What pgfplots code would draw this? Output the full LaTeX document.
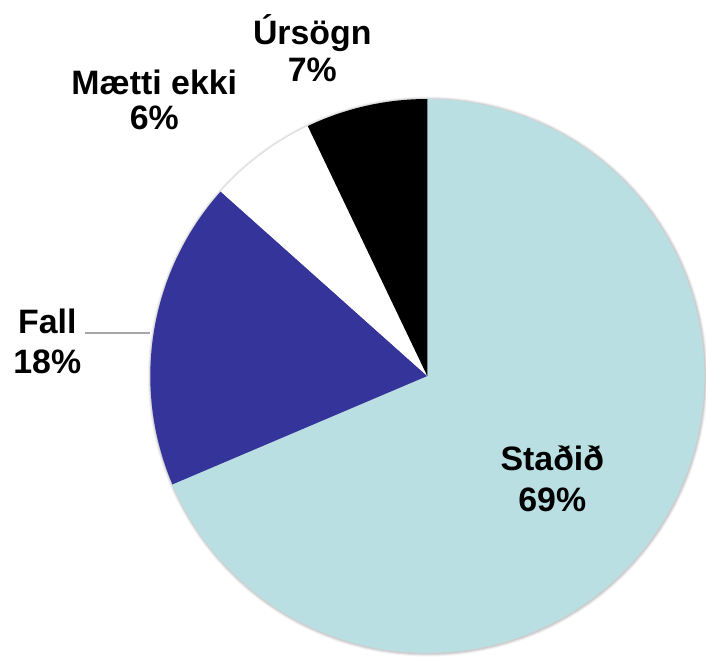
\documentclass[border=0pt]{standalone}
\usepackage{pgfplots}
\pgfplotsset{compat=1.18}
\usepackage{pgfplotstable}
\usepackage{fontspec}
\setmainfont{Liberation Sans}
\definecolor{stadid}{HTML}{BADFE3}
\definecolor{fall}{HTML}{35349A}
\pgfplotstableread{
label value
Stadid 68.6
Fall 18.0
Maetti 6.3
Ursogn 7.1
}\piedata
\pgfplotstablegetelem{0}{value}\of\piedata \let\vA\pgfplotsretval
\pgfplotstablegetelem{1}{value}\of\piedata \let\vB\pgfplotsretval
\pgfplotstablegetelem{2}{value}\of\piedata \let\vC\pgfplotsretval
\pgfplotstablegetelem{3}{value}\of\piedata \let\vD\pgfplotsretval
\pgfmathsetmacro{\aZero}{90}
\pgfmathsetmacro{\aA}{90-3.6*\vA}
\pgfmathsetmacro{\aB}{\aA-3.6*\vB}
\pgfmathsetmacro{\aC}{\aB-3.6*\vC}
\pgfmathsetmacro{\aD}{\aC-3.6*\vD}
\def\R{277}
\tikzset{lbl/.style={font=\fontsize{34}{40}\selectfont\bfseries, inner sep=0pt, anchor=base}}
\begin{document}
\begin{tikzpicture}
\begin{axis}[
  x=1bp, y=1bp,
  xmin=-427.3, xmax=278.7, ymin=-281, ymax=376,
  hide axis, clip=false,
]
\coordinate (bl) at (axis cs:-427.3,-281);
\coordinate (tr) at (axis cs:278.7,376);
% soft shadow
\foreach \k/\op in {3/0.05,2/0.07,1/0.09}{
  \edef\tmp{\noexpand\addplot[draw=none, fill=black, fill opacity=\op, domain=0:360, samples=120, variable=\noexpand\t]
    ({(\R+\k)*cos(\noexpand\t)+0.5},{(\R+\k)*sin(\noexpand\t)-0.5}) -- cycle;}
  \tmp
}
\addplot[draw=none, fill=stadid, domain=\aZero:\aA, samples=150, variable=\t]
  ({\R*cos(\t)},{\R*sin(\t)}) -- (0,0) -- cycle;
\addplot[draw=none, fill=fall, domain=\aA:\aB, samples=60, variable=\t]
  ({\R*cos(\t)},{\R*sin(\t)}) -- (0,0) -- cycle;
\addplot[draw=none, fill=white, domain=\aB:\aC, samples=30, variable=\t]
  ({\R*cos(\t)},{\R*sin(\t)}) -- (0,0) -- cycle;
\addplot[draw=none, fill=black, domain=\aC:\aD, samples=30, variable=\t]
  ({\R*cos(\t)},{\R*sin(\t)}) -- (0,0) -- cycle;
% leader line
\draw[gray!70, line width=1.2bp] (axis cs:-342,43) -- (axis cs:-277,43);
% labels
\node[lbl] at (axis cs:125,-95) {Staðið};
\node[lbl] at (axis cs:125,-136) {69\%};
\node[lbl] at (axis cs:-380,42) {Fall};
\node[lbl] at (axis cs:-380,2) {18\%};
\node[lbl] at (axis cs:-273,281) {Mætti ekki};
\node[lbl] at (axis cs:-273,246) {6\%};
\node[lbl] at (axis cs:-115,331) {Úrsögn};
\node[lbl] at (axis cs:-115,294) {7\%};
\end{axis}
\pgfresetboundingbox
\useasboundingbox (bl) rectangle (tr);
\end{tikzpicture}
\end{document}
